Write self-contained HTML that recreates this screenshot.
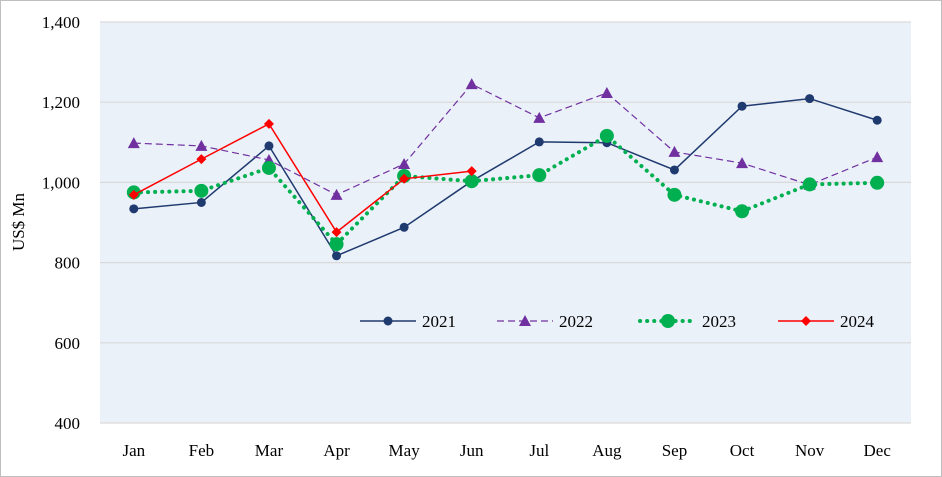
<!DOCTYPE html>
<html><head><meta charset="utf-8"><style>
body{margin:0;background:#fff;}
svg{display:block;font-family:"Liberation Serif",serif;}
</style></head><body>
<svg id="chart" width="942" height="477">
<rect x="0.5" y="0.5" width="941" height="476" fill="#fff" stroke="#bfbfbf"/>
<rect x="100" y="22" width="811" height="401" fill="#eaf1f9"/>
<g id="grid"></g><g id="yt"></g><g id="xt"></g><g id="series"></g><g id="legend"></g>
<text x="24" y="222" font-size="17" text-anchor="middle" transform="rotate(-90 24 222)">US$ Mn</text>
</svg>
<script>
const months=["Jan","Feb","Mar","Apr","May","Jun","Jul","Aug","Sep","Oct","Nov","Dec"];
const yTicks=[400,600,800,1000,1200,1400];
const y2021=[934,950,1091,817,888,1003,1101,1099,1031,1190,1209,1155];
const y2022=[1098,1091,1056,969,1046,1245,1161,1223,1076,1048,994,1063];
const y2023=[975,979,1036,846,1016,1003,1018,1116,969,928,995,999];
const y2024=[969,1058,1146,876,1009,1028];
const NS="http://www.w3.org/2000/svg";
const X=i=>100+811/12*(i+0.5);
const Y=v=>423-(v-400)*0.401;
function mk(p,t,a){const e=document.createElementNS(NS,t);for(const k in a)e.setAttribute(k,a[k]);p.appendChild(e);return e;}
const g=document.getElementById('grid'),yt=document.getElementById('yt'),xt=document.getElementById('xt');
yTicks.forEach(v=>{
 const l=mk(g,'line',{x1:100,x2:911,y1:Y(v),y2:Y(v),stroke:'#d9d9d9','stroke-width':1.2});
 
 
 const t=mk(yt,'text',{x:80,y:Y(v)+6,'font-size':17,'text-anchor':'end'});t.textContent=v.toLocaleString('en-US');
 
 
});
months.forEach((m,i)=>{
 const t=mk(xt,'text',{x:X(i),y:456,'font-size':17,'text-anchor':'middle'});t.textContent=m;
 
 
});
const S=document.getElementById('series');
function marker(p,type,x,y,c){
 let e;
 if(type==='circle')e=mk(p,'circle',{cx:x,cy:y,r:4.5,fill:c});
 else if(type==='big')e=mk(p,'circle',{cx:x,cy:y,r:7,fill:c});
 else if(type==='tri')e=mk(p,'polygon',{points:`${x},${y-6} ${x+6},${y+5} ${x-6},${y+5}`,fill:c});
 else e=mk(p,'polygon',{points:`${x},${y-5} ${x+5},${y} ${x},${y+5} ${x-5},${y}`,fill:c});
 return e;
}
function series(name,vals,c,dash,w,type){
 const gg=mk(S,'g',{});
 
 
 const pl=mk(gg,'polyline',{points:vals.map((v,i)=>X(i)+','+Y(v)).join(' '),fill:'none',stroke:c,'stroke-width':w,'stroke-dasharray':dash,'stroke-linecap':type==='big'?'round':'butt'});
 
 
 vals.forEach((v,i)=>{const m=marker(gg,type,X(i),Y(v),c);
  
  });
}
series('2021',y2021,'#1f3a6e','none',1.5,'circle');
series('2022',y2022,'#7030a0','7 4',1.2,'tri');
series('2023',y2023,'#00b050','0.1 7',4,'big');
series('2024',y2024,'#ff0000','none',1.5,'diamond');
const L=document.getElementById('legend');
[['2021','#1f3a6e','none',1.5,'circle',360],['2022','#7030a0','7 4',1.2,'tri',497],['2023','#00b050','0.1 7',4,'big',640],['2024','#ff0000','none',1.5,'diamond',778]].forEach(d=>{
 const gg=mk(L,'g',{});
 
 
 mk(gg,'line',{x1:d[5],x2:d[5]+56,y1:321,y2:321,stroke:d[1],'stroke-width':d[3],'stroke-dasharray':d[2],'stroke-linecap':d[4]==='big'?'round':'butt'});
 marker(gg,d[4],d[5]+28,321,d[1]);
 const t=mk(gg,'text',{x:d[5]+62,y:327,'font-size':17});t.textContent=d[0];
});
</script>
</body></html>
